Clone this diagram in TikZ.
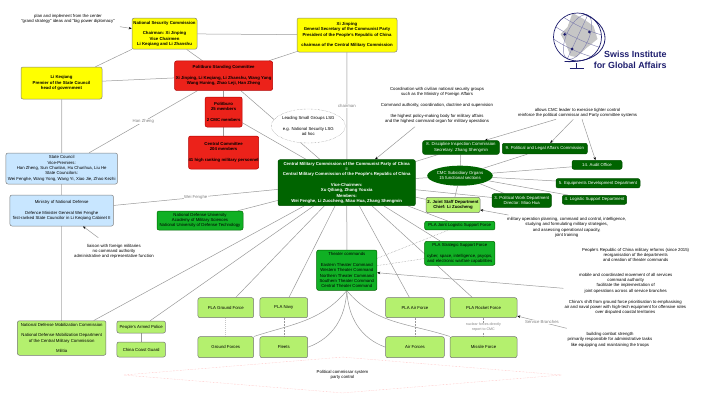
\documentclass[tikz,border=0pt]{standalone}
\usepackage{fontspec}
\setmainfont{Liberation Sans}
\usetikzlibrary{arrows.meta, shapes.geometric, backgrounds}
\definecolor{boxyellow}{RGB}{255,255,0}
\definecolor{boxred}{RGB}{236,34,26}
\definecolor{boxblue}{RGB}{200,230,255}
\definecolor{boxdark}{RGB}{0,100,0}
\definecolor{boxgreen}{RGB}{16,176,36}
\definecolor{boxlight}{RGB}{180,240,110}
\definecolor{logoblue}{RGB}{30,30,110}
\newcommand{\smalltext}{\fontsize{4.3}{5.33}\selectfont}
\tikzset{
  unitbox/.style={draw, rounded corners=2pt, align=center, inner sep=0pt, font=\smalltext, line width=0.5pt},
  topbox/.style={unitbox, fill=boxyellow, draw=gray, font=\smalltext\bfseries},
  partybox/.style={unitbox, fill=boxred, draw=red!70!black, font=\smalltext\bfseries},
  statebox/.style={unitbox, fill=boxblue, draw=gray},
  darkbox/.style={unitbox, fill=boxdark, draw=boxdark!80!black, text=white},
  greenbox/.style={unitbox, fill=boxgreen, draw=boxdark},
  lightbox/.style={unitbox, fill=boxlight, draw=gray!90!black},
  note/.style={align=center, inner sep=0pt, font=\smalltext},
  edgelabel/.style={fill=white, inner sep=0.5pt, text=gray, font=\smalltext},
  link/.style={draw=gray!80, line width=0.5pt},
  heavylink/.style={draw=gray!45, line width=1pt},
  dotlink/.style={draw=gray!80, line width=0.5pt, densely dotted},
  notelink/.style={draw=gray!80, line width=0.5pt, -{Stealth[length=3pt,width=2.5pt,color=black]}},
  logogrid/.style={draw=logoblue!55, line width=0.45pt},
}
\begin{document}
\begin{tikzpicture}[x=1pt, y=-1pt]
\useasboundingbox (0,0) rectangle (701,400);
%Top of the party and the state
\node[topbox, minimum width=65pt, minimum height=31pt] (nsc) at (164.5,33.7) {National Security Commission\\[5.33pt]Chairman: Xi Jinping\\Vice Chairmen\\Li Keqiang and Li Zhanshu};
\node[topbox, minimum width=100pt, minimum height=34pt] (xi) at (347,35) {Xi Jinping\\General Secretary of the Communist Party\\President of the People's Republic of China\\[5.33pt]chairman of the Central Military Commission};
\node[topbox, minimum width=81pt, minimum height=32pt] (premier) at (61.5,83) {Li Keqiang\\Premier of the State Council\\head of government};
\node[partybox, minimum width=98pt, minimum height=29.5pt] (standing) at (223.6,75.7) {Politburo Standing Committee\\[5.33pt]Xi Jinping, Li Keqiang, Li Zhanshu, Wang Yang\\Wang Huning, Zhao Leji, Han Zheng};
\node[partybox, minimum width=37pt, minimum height=30pt] (politburo) at (223.6,112) {Politburo\\25 members\\[5.33pt]2 CMC members};
\node[partybox, minimum width=70pt, minimum height=33pt] (central) at (223.6,152.5) {Central Committee\\204 members\\[5.33pt]41 high ranking military personnel};
\node[ellipse, draw=gray, densely dotted, fill=white, align=center, inner sep=0pt, minimum width=72pt, minimum height=34pt, font=\smalltext] (lsg) at (308.3,126) {Leading Small Groups LSG\\[5.33pt]e.g. National Security LSG\\ad hoc};
%State organs
\node[statebox, minimum width=111.5pt, minimum height=31pt] (council) at (61.7,168.5) {State Council\\Vice-Premiers:\\Han Zheng, Sun Chunlan, Hu Chunhua, Liu He\\State Councilors:\\Wei Fenghe, Wang Yong, Wang Yi, Xiao Jie, Zhao Kezhi};
\node[statebox, minimum width=103.5pt, minimum height=31pt] (defense) at (61.7,210.5) {Ministry of National Defense\\[5.33pt]Defence Minister General Wei Fenghe\\first-ranked State Councilor in Li Keqiang Cabinet II};
\node[lightbox, minimum width=88.5pt, minimum height=34.5pt] (mobil) at (61.7,338) {National Defense Mobilization Commission\\[5.33pt]National Defense Mobilization Department\\of the Central Military Commission\\[5.33pt]Militia};
\node[lightbox, minimum width=48.5pt, minimum height=12pt] (police) at (141.2,327) {People's Armed Police};
\node[lightbox, minimum width=48.5pt, minimum height=15pt] (coast) at (141.2,349.5) {China Coast Guard};
%Central Military Commission
\node[darkbox, minimum width=137.3pt, minimum height=46pt, font=\smalltext\bfseries] (cmc) at (346.7,182.7) {Central Military Commission of the Communist Party of China\\=\\Central Military Commission of the People's Republic of China\\[5.33pt]Vice-Chairmen:\\Xu Qiliang, Zhang Youxia\\Members:\\Wei Fenghe, Li Zuocheng, Miao Hua, Zhang Shengmin};
\node[greenbox, minimum width=86pt, minimum height=19pt] (university) at (200,220.5) {National Defense University\\Academy of Military Sciences\\National University of Defense Technology};
\node[ellipse, fill=boxdark, text=white, align=center, inner sep=0pt, minimum width=61.4pt, minimum height=20pt, font=\smalltext] (organs) at (460,175.7) {CMC Subsidiary Organs\\15 functional sections};
\node[darkbox, minimum width=76.6pt, minimum height=13.6pt] (discipline) at (461,147.5) {8. Discipline Inspection Commission\\Secretary: Zhang Shengmin};
\node[darkbox, minimum width=85pt, minimum height=10.7pt] (legal) at (544.8,148.6) {9. Political and Legal Affairs Commission};
\node[darkbox, minimum width=50pt, minimum height=9pt] (audit) at (597,164.8) {14. Audit Office};
\node[darkbox, minimum width=84pt, minimum height=9.3pt] (equip) at (598,183.3) {5. Equipments Development Department};
\node[darkbox, minimum width=64.4pt, minimum height=9pt] (supply) at (594.5,199.8) {4. Logistic Support Department};
\node[darkbox, minimum width=59.3pt, minimum height=13.6pt] (polwork) at (521.7,200.5) {3. Political Work Department\\Director: Miao Hua};
\node[lightbox, minimum width=54pt, minimum height=15.4pt, font=\smalltext\bfseries] (jointstaff) at (453,205) {2. Joint Staff Department\\Chief: Li Zuocheng};
\node[greenbox, minimum width=70.3pt, minimum height=8.7pt] (jointlog) at (459.8,225.6) {PLA Joint Logistic Support Force};
\node[greenbox, minimum width=70.3pt, minimum height=24pt] (strategic) at (459.8,253.3) {PLA Strategic Support Force\\[5.33pt]cyber, space, intelligence, psyops,\\and electronic warfare capabilities};
\node[greenbox, minimum width=60.3pt, minimum height=40.3pt] (theater) at (346.8,270.2) {Theater commands\\[5.33pt]Eastern Theater Command\\Western Theater Command\\Northern Theater Command\\Southern Theater Command\\Central Theater Command};
%Service branches
\node[lightbox, minimum width=55.7pt, minimum height=20pt] (ground) at (225.8,307.7) {PLA Ground Force};
\node[lightbox, minimum width=47.7pt, minimum height=20pt] (navy) at (283.8,307.7) {PLA Navy};
\node[lightbox, minimum width=58.6pt, minimum height=20pt] (air) at (415,307.7) {PLA Air Force};
\node[lightbox, minimum width=67pt, minimum height=20pt] (rocket) at (483.5,307.7) {PLA Rocket Force};
\node[lightbox, minimum width=55.7pt, minimum height=21pt] (groundf) at (225.8,347.2) {Ground Forces};
\node[lightbox, minimum width=47.7pt, minimum height=21pt] (fleets) at (283.8,347.2) {Fleets};
\node[lightbox, minimum width=58.6pt, minimum height=21pt] (airf) at (415,347.2) {Air Forces};
\node[lightbox, minimum width=67pt, minimum height=21pt] (missile) at (483.5,347.2) {Missile Force};
\node[diamond, draw=red!35, densely dotted, align=center, inner sep=0pt, aspect=12, minimum width=438pt, minimum height=36pt, font=\smalltext] (control) at (342.5,375) {Political commissar system\\party control};
%Text
\node[note] (plan) at (68,18.7) {plan and implement from the center\\``grand strategy'' ideas and ``big power diplomacy''};
\node[note] (highest) at (437,105.3) {Coordination with civilian national security groups\\such as the Ministry of Foreign Affairs\\[5.33pt]Command authority, coordination, doctrine and supervision\\[5.33pt]the highest policy-making body for military affairs\\and the highest command organ for military operations};
\node[note] (allows) at (577.5,112.7) {allows CMC leader to exercise tighter control\\reinforce the political commissar and Party committee systems};
\node[note] (planning) at (566.7,227.3) {military operation planning, command and control, intelligence,\\studying and formulating military strategies,\\and assessing operational capacity,\\joint training};
\node[note] (reforms) at (635.7,255) {People's Republic of China military reforms (since 2015)\\reorganisation of the departments\\and creation of theater commands};
\node[note] (mobile) at (625.7,283) {mobile and coordinated movement of all services\\command authority\\facilitate the implementation of\\joint operations across all service branches};
\node[note] (shift) at (625.3,307.3) {China's shift from ground force prioritisation to emphasising\\air and naval power with high-tech equipment for offensive roles\\over disputed coastal territories};
\node[note] (combat) at (610,339.7) {building combat strength\\primarily responsible for administrative tasks\\like equipping and maintaining the troops};
\node[note] (liaison) at (114,251.3) {liaison with foreign militaries\\no command authority\\administrative and representative function};
%Free ends of the note arrows
\coordinate (planend) at (120,26.7);
\coordinate (highestend) at (415,126.7);
\coordinate (allowsa) at (556,119.3);
\coordinate (allowsb) at (573.3,119.3);
\coordinate (allowsc) at (582,119.3);
\coordinate (planningend) at (508.3,215);
\coordinate (mobileend) at (563.3,288.3);
\coordinate (branchend) at (566.7,328.3);
\coordinate (liaisonend) at (98.3,237.7);
\begin{scope}[on background layer]
\draw[link] (nsc) -- (xi);
\draw[link] (nsc) -- (premier);
\draw[link] (nsc) -- (standing);
\draw[link] (premier) -- (standing);
\draw[link] (xi) -- (standing);
\draw[link] (standing) -- node[edgelabel] {Han Zheng} (council);
\draw[link] (standing) -- (politburo);
\draw[link] (politburo) -- (central);
\draw[link] (standing) -- (cmc);
\draw[link] (politburo) -- (cmc);
\draw[heavylink] (xi) -- node[edgelabel] {chairman} (cmc);
\draw[heavylink] (premier) -- (council);
\draw[heavylink] (council) -- (defense);
\draw[heavylink] (defense) -- (mobil);
\draw[link] (police) -- (coast);
\draw[link] (defense) -- node[edgelabel] {Wei Fenghe} (cmc);
\draw[link] (university) -- (cmc);
\draw[link] (cmc) -- (mobil);
\draw[link] (cmc) -- (police);
\draw[link] (cmc) -- (ground);
\draw[link] (cmc) -- (navy);
\draw[heavylink] (cmc) -- (theater);
\draw[link] (cmc) -- (air);
\draw[link] (cmc) -- (rocket);
\draw[link] (cmc) -- (strategic);
\draw[link] (cmc) -- (jointlog);
\draw[link] (cmc) -- (jointstaff);
\draw[link] (cmc) -- (polwork);
\draw[link] (cmc) -- (organs);
\draw[link] (cmc) -- (discipline);
\foreach \unit in {discipline, legal, audit, equip, supply, polwork, jointstaff}
  \draw[link] (organs) -- (\unit);
\draw[dotlink] (theater) -- (jointlog);
\draw[dotlink] (theater) -- (strategic);
\draw[heavylink, densely dotted] (ground) -- (groundf);
\draw[dotlink] (navy) -- (fleets);
\draw[dotlink] (air) -- (airf);
\draw[dotlink] (rocket) -- node[edgelabel, align=center, font=\fontsize{3.6}{4.8}\selectfont] {nuclear forces directly\\report to CMC} (missile);
\draw[link] (theater.south) to[out=-130, in=18] (groundf.north east);
\draw[link] (theater.south) to[out=-93, in=20] (fleets.east);
\draw[link] (theater.south) to[out=-87, in=160] (airf.west);
\draw[link] (theater.south) to[out=-50, in=162] (missile.north west);
\draw[notelink] (planend) -- (nsc);
\draw[notelink] (highestend) -- (cmc);
\draw[notelink] (allowsa) -- (discipline);
\draw[notelink] (allowsb) -- (legal);
\draw[notelink] (allowsc) -- (audit);
\draw[notelink] (planningend) -- (jointstaff);
\draw[notelink] (mobileend) -- (theater);
\draw[notelink] (branchend) -- node[edgelabel] {Service Branches} (rocket);
\draw[notelink] (liaisonend) -- (defense);
\end{scope}
%Logo
\begin{scope}[shift={(577.5,37)}]
\fill[gray!45] (-5,-24) -- (6,-18) -- (16,-11) -- (20,2) -- (9,11) -- (-1,20) -- (-7,19) -- (-12,6) -- (-17,-3) -- (-10,-10) -- cycle;
\begin{scope}[rotate=-25]
\draw[logogrid] (0,0) ellipse [x radius=11, y radius=24];
\draw[logogrid] (0,-24) -- (0,24);
\draw[logogrid] (-24,0) .. controls (-10,2) and (10,2) .. (24,0);
\draw[logogrid] (-20.8,-12) .. controls (-8,-10) and (8,-10) .. (20.8,-12);
\draw[logogrid] (-20.8,12) .. controls (-8,14) and (8,14) .. (20.8,12);
\end{scope}
\draw[logoblue, line width=0.7pt] (0,0) circle [radius=24];
\fill[logoblue] (-12.8,-2.7) circle [radius=1.5];
\fill[logoblue] (11.8,-5) circle [radius=1.5];
\fill[logoblue] (-5.5,12) circle [radius=1.5];
\draw[logoblue, line width=0.8pt] (5,-23.5) .. controls (20,-18) and (28,-8) .. (27.5,2) .. controls (27,14) and (15,26) .. (-13,24.5);
\draw[logoblue, line width=0.6pt] (-1.5,26) -- (-1.5,31);
\draw[logoblue, line width=0.8pt] (-8,31.3) -- (6,31.3);
\end{scope}
\node[align=right, anchor=east, inner sep=0pt, text=logoblue, font=\fontsize{8.9}{10.8}\selectfont\bfseries] (logotext) at (666.7,59.5) {Swiss Institute\\for Global Affairs};
\end{tikzpicture}
\end{document}
